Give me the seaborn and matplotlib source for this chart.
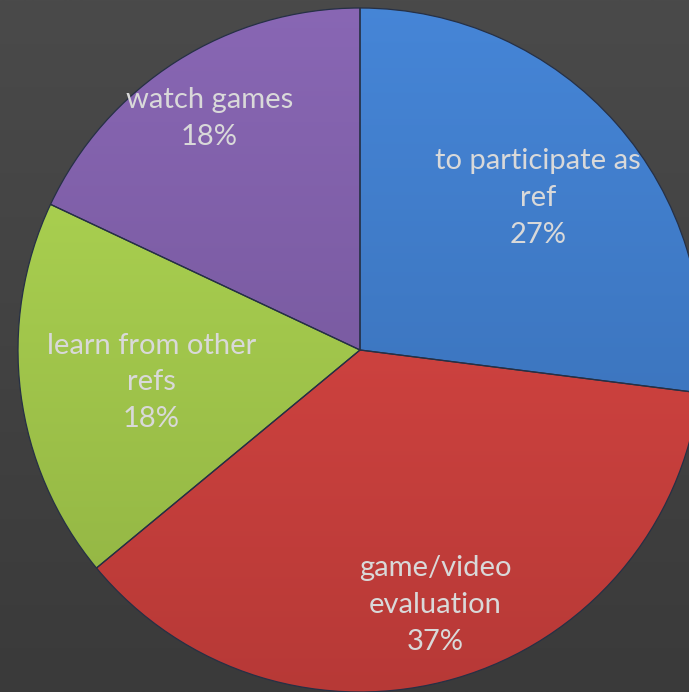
import numpy as np
import matplotlib
matplotlib.use("Agg")
import matplotlib.pyplot as plt
import seaborn as sns
from matplotlib.colors import to_rgb

categories = ["to participate as\nref", "game/video\nevaluation", "learn from other\nrefs", "watch games"]
values = [27, 37, 18, 18]
colors = ["#3d79c6", "#d0413e", "#a3c94b", "#7c5ca5"]
label_pos = [(0.52, 0.445), (0.22, -0.745), (-0.61, -0.095), (-0.44, 0.678)]

sns.set_theme(style="white")
plt.rcParams['font.family'] = ['Lato', 'DejaVu Sans']

fig = plt.figure(figsize=(6.89, 6.92), dpi=100)
ax = fig.add_axes([0, 0, 1, 1])

# background gradient
bg = np.linspace(0, 1, 256)[:, None]
top = np.array(to_rgb("#4a4a4a")); bot = np.array(to_rgb("#3a3a3a"))
bgimg = top[None, None, :] * (1 - bg[..., None]) + bot[None, None, :] * bg[..., None]
ax.imshow(bgimg, extent=[-360/342, 329/342, -342/342, 350/342], aspect='auto', zorder=0)

wedges, _ = ax.pie(values, colors=colors, startangle=90, counterclock=False,
                   radius=1.0, center=(0, 0), frame=True,
                   wedgeprops=dict(edgecolor="#263045", linewidth=0.9))
ax.set_xlim(-360/342, 329/342)
ax.set_ylim(-342/342, 350/342)
ax.set_aspect('auto')
ax.axis('off')

# vertical shading inside each wedge
t = np.linspace(0, 1, 256)[:, None]
for w, c in zip(wedges, colors):
    base = np.array(to_rgb(c))
    light = np.clip(base * 1.06 + 0.02, 0, 1)
    dark = base * 0.88
    img = light[None, None, :] * (1 - t[..., None]) + dark[None, None, :] * t[..., None]
    im = ax.imshow(img, extent=[-1, 1, -1, 1], aspect='auto', zorder=w.get_zorder() + 0.1)
    im.set_clip_path(w)

for w in wedges:
    w.set_facecolor("none")
    w.set_zorder(5)

total = sum(values)
for (x, y), cat, v in zip(label_pos, categories, values):
    ax.text(x, y, f"{cat}\n{round(100*v/total)}%", ha="center", va="center",
            fontsize=21, color="#d9d9d9", linespacing=1.52, zorder=10)

fig.savefig("out.png", dpi=100)
